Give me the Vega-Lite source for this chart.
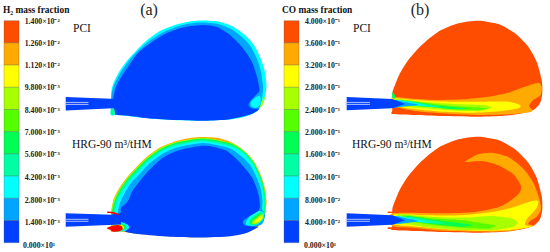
{"$schema":"https://vega.github.io/schema/vega-lite/v6.json","width":550,"height":252,"padding":0,"autosize":{"type":"fit","contains":"padding"},"background":"white","config":{"view":{"stroke":null}},
"datasets":{
"regions":[
{"shape":1,"level":2,"x":111,"y":97},{"shape":1,"level":2,"x":111.5,"y":90},{"shape":1,"level":2,"x":113.5,"y":83},{"shape":1,"level":2,"x":119,"y":72},{"shape":1,"level":2,"x":126,"y":62},{"shape":1,"level":2,"x":134,"y":53},{"shape":1,"level":2,"x":146,"y":41},{"shape":1,"level":2,"x":160,"y":31},{"shape":1,"level":2,"x":175,"y":25},{"shape":1,"level":2,"x":190,"y":21.5},{"shape":1,"level":2,"x":203,"y":20.5},{"shape":1,"level":2,"x":218,"y":21.5},{"shape":1,"level":2,"x":232,"y":26},{"shape":1,"level":2,"x":245,"y":35},{"shape":1,"level":2,"x":254,"y":45},{"shape":1,"level":2,"x":260,"y":57},{"shape":1,"level":2,"x":264.5,"y":70},{"shape":1,"level":2,"x":266.5,"y":85},{"shape":1,"level":2,"x":265,"y":98},{"shape":1,"level":2,"x":263,"y":103},{"shape":1,"level":2,"x":258,"y":110.5},{"shape":1,"level":2,"x":247,"y":116},{"shape":1,"level":2,"x":230,"y":119.5},{"shape":1,"level":2,"x":200,"y":120.7},{"shape":1,"level":2,"x":170,"y":120},{"shape":1,"level":2,"x":140,"y":117.5},{"shape":1,"level":2,"x":120,"y":115},{"shape":1,"level":2,"x":111,"y":115},{"shape":1,"level":2,"x":111,"y":108},
{"shape":2,"level":1,"x":111.5,"y":97},{"shape":2,"level":1,"x":112.5,"y":90},{"shape":2,"level":1,"x":115,"y":83},{"shape":2,"level":1,"x":121,"y":72},{"shape":2,"level":1,"x":128,"y":62},{"shape":2,"level":1,"x":136,"y":53},{"shape":2,"level":1,"x":148,"y":42},{"shape":2,"level":1,"x":162,"y":33},{"shape":2,"level":1,"x":176,"y":27},{"shape":2,"level":1,"x":190,"y":23.5},{"shape":2,"level":1,"x":203,"y":22.5},{"shape":2,"level":1,"x":218,"y":24},{"shape":2,"level":1,"x":231,"y":29},{"shape":2,"level":1,"x":243,"y":38},{"shape":2,"level":1,"x":251,"y":47},{"shape":2,"level":1,"x":257,"y":59},{"shape":2,"level":1,"x":261,"y":72},{"shape":2,"level":1,"x":263,"y":87},{"shape":2,"level":1,"x":262,"y":98},{"shape":2,"level":1,"x":258,"y":107},{"shape":2,"level":1,"x":247,"y":115},{"shape":2,"level":1,"x":200,"y":120},{"shape":2,"level":1,"x":120,"y":114.5},{"shape":2,"level":1,"x":112,"y":114},
{"shape":3,"level":6,"x":265.5,"y":96},{"shape":3,"level":6,"x":262.5,"y":100},{"shape":3,"level":6,"x":259,"y":107.5},{"shape":3,"level":6,"x":262,"y":106},{"shape":3,"level":6,"x":265,"y":98},
{"shape":4,"level":1,"x":262,"y":92},{"shape":4,"level":1,"x":256,"y":93},{"shape":4,"level":1,"x":250,"y":98},{"shape":4,"level":1,"x":247.5,"y":105},{"shape":4,"level":1,"x":250,"y":109.5},{"shape":4,"level":1,"x":258,"y":109.5},{"shape":4,"level":1,"x":261,"y":103},
{"shape":5,"level":2,"x":260,"y":96},{"shape":5,"level":2,"x":255,"y":98},{"shape":5,"level":2,"x":251,"y":102},{"shape":5,"level":2,"x":251,"y":106},{"shape":5,"level":2,"x":256,"y":108},{"shape":5,"level":2,"x":260.5,"y":104},
{"shape":6,"level":0,"x":113.5,"y":97},{"shape":6,"level":0,"x":115.5,"y":88},{"shape":6,"level":0,"x":120.5,"y":78},{"shape":6,"level":0,"x":128,"y":67},{"shape":6,"level":0,"x":138,"y":53},{"shape":6,"level":0,"x":152,"y":42},{"shape":6,"level":0,"x":167,"y":33},{"shape":6,"level":0,"x":185,"y":27},{"shape":6,"level":0,"x":203,"y":25},{"shape":6,"level":0,"x":217,"y":27},{"shape":6,"level":0,"x":230,"y":35},{"shape":6,"level":0,"x":242,"y":47},{"shape":6,"level":0,"x":252,"y":62},{"shape":6,"level":0,"x":257,"y":77},{"shape":6,"level":0,"x":259.5,"y":90},{"shape":6,"level":0,"x":256,"y":95},{"shape":6,"level":0,"x":251,"y":100},{"shape":6,"level":0,"x":248.5,"y":105},{"shape":6,"level":0,"x":252,"y":108.5},{"shape":6,"level":0,"x":259,"y":109},{"shape":6,"level":0,"x":254,"y":113},{"shape":6,"level":0,"x":245,"y":116},{"shape":6,"level":0,"x":228,"y":119.5},{"shape":6,"level":0,"x":205,"y":120.7},{"shape":6,"level":0,"x":175,"y":120},{"shape":6,"level":0,"x":150,"y":118.5},{"shape":6,"level":0,"x":130,"y":116},{"shape":6,"level":0,"x":115,"y":114.5},{"shape":6,"level":0,"x":113,"y":108},{"shape":6,"level":0,"x":113,"y":100},
{"shape":7,"level":3,"x":111,"y":108.5},{"shape":7,"level":3,"x":114,"y":108.5},{"shape":7,"level":3,"x":115,"y":114.5},{"shape":7,"level":3,"x":111,"y":115},
{"shape":10,"level":8,"x":111,"y":213.5},{"shape":10,"level":8,"x":113.5,"y":199.5},{"shape":10,"level":8,"x":119,"y":188.5},{"shape":10,"level":8,"x":126,"y":178.5},{"shape":10,"level":8,"x":134,"y":169.5},{"shape":10,"level":8,"x":146,"y":157.5},{"shape":10,"level":8,"x":160,"y":147.5},{"shape":10,"level":8,"x":175,"y":141.5},{"shape":10,"level":8,"x":190,"y":138},{"shape":10,"level":8,"x":203,"y":137},{"shape":10,"level":8,"x":218,"y":138},{"shape":10,"level":8,"x":232,"y":142.5},{"shape":10,"level":8,"x":245,"y":151.5},{"shape":10,"level":8,"x":254,"y":161.5},{"shape":10,"level":8,"x":260,"y":173.5},{"shape":10,"level":8,"x":264.5,"y":186.5},{"shape":10,"level":8,"x":266.5,"y":201.5},{"shape":10,"level":8,"x":265,"y":214.5},{"shape":10,"level":8,"x":263,"y":219.5},{"shape":10,"level":8,"x":258,"y":227},{"shape":10,"level":8,"x":247,"y":232.5},{"shape":10,"level":8,"x":230,"y":236},{"shape":10,"level":8,"x":200,"y":237.2},{"shape":10,"level":8,"x":170,"y":236.5},{"shape":10,"level":8,"x":140,"y":234},{"shape":10,"level":8,"x":120,"y":231.5},{"shape":10,"level":8,"x":111,"y":231.5},{"shape":10,"level":8,"x":111,"y":225},
{"shape":11,"level":6,"x":111.7,"y":213.6},{"shape":11,"level":6,"x":114.1,"y":199.7},{"shape":11,"level":6,"x":119.6,"y":188.9},{"shape":11,"level":6,"x":126.5,"y":179},{"shape":11,"level":6,"x":134.5,"y":170},{"shape":11,"level":6,"x":146.4,"y":158.1},{"shape":11,"level":6,"x":160.3,"y":148.1},{"shape":11,"level":6,"x":175.2,"y":142.2},{"shape":11,"level":6,"x":203,"y":137.7},{"shape":11,"level":6,"x":231.7,"y":143.1},{"shape":11,"level":6,"x":245,"y":151.7},{"shape":11,"level":6,"x":253.8,"y":161.7},{"shape":11,"level":6,"x":259.8,"y":173.7},{"shape":11,"level":6,"x":264.2,"y":186.6},{"shape":11,"level":6,"x":266.2,"y":201.5},{"shape":11,"level":6,"x":264.8,"y":214.5},{"shape":11,"level":6,"x":258,"y":226},{"shape":11,"level":6,"x":200,"y":236},{"shape":11,"level":6,"x":125,"y":231},
{"shape":12,"level":4,"x":112.5,"y":213.7},{"shape":12,"level":4,"x":114.9,"y":200},{"shape":12,"level":4,"x":120.3,"y":189.3},{"shape":12,"level":4,"x":127.1,"y":179.5},{"shape":12,"level":4,"x":135,"y":170.5},{"shape":12,"level":4,"x":146.9,"y":158.7},{"shape":12,"level":4,"x":160.7,"y":148.9},{"shape":12,"level":4,"x":175.5,"y":142.9},{"shape":12,"level":4,"x":203,"y":138.5},{"shape":12,"level":4,"x":231.3,"y":143.8},{"shape":12,"level":4,"x":244.5,"y":152},{"shape":12,"level":4,"x":253.4,"y":162},{"shape":12,"level":4,"x":259.4,"y":173.8},{"shape":12,"level":4,"x":263.8,"y":186.7},{"shape":12,"level":4,"x":265.8,"y":201.5},{"shape":12,"level":4,"x":264.3,"y":214.4},{"shape":12,"level":4,"x":258,"y":225},{"shape":12,"level":4,"x":200,"y":232},{"shape":12,"level":4,"x":125,"y":228},
{"shape":13,"level":3,"x":113.8,"y":213.8},{"shape":13,"level":3,"x":116,"y":200.5},{"shape":13,"level":3,"x":121.4,"y":189.9},{"shape":13,"level":3,"x":128.1,"y":180.3},{"shape":13,"level":3,"x":136,"y":171.5},{"shape":13,"level":3,"x":147.7,"y":159.7},{"shape":13,"level":3,"x":161.3,"y":150},{"shape":13,"level":3,"x":175.8,"y":144.2},{"shape":13,"level":3,"x":203,"y":139.8},{"shape":13,"level":3,"x":230.7,"y":145},{"shape":13,"level":3,"x":244,"y":152.6},{"shape":13,"level":3,"x":252.8,"y":162.4},{"shape":13,"level":3,"x":258.6,"y":174.2},{"shape":13,"level":3,"x":263,"y":186.9},{"shape":13,"level":3,"x":265,"y":201.5},{"shape":13,"level":3,"x":263.6,"y":214.2},{"shape":13,"level":3,"x":258,"y":225},{"shape":13,"level":3,"x":200,"y":232},{"shape":13,"level":3,"x":125,"y":228},
{"shape":14,"level":2,"x":115.2,"y":213.9},{"shape":14,"level":2,"x":117.3,"y":201},{"shape":14,"level":2,"x":122.6,"y":190.6},{"shape":14,"level":2,"x":129.2,"y":181.2},{"shape":14,"level":2,"x":137,"y":172.4},{"shape":14,"level":2,"x":148.5,"y":160.9},{"shape":14,"level":2,"x":162,"y":151.3},{"shape":14,"level":2,"x":176.3,"y":145.5},{"shape":14,"level":2,"x":203,"y":141.2},{"shape":14,"level":2,"x":230,"y":146.3},{"shape":14,"level":2,"x":243.4,"y":153.4},{"shape":14,"level":2,"x":252,"y":163},{"shape":14,"level":2,"x":257.8,"y":174.6},{"shape":14,"level":2,"x":262,"y":187.1},{"shape":14,"level":2,"x":264,"y":201.5},{"shape":14,"level":2,"x":262.7,"y":214},{"shape":14,"level":2,"x":258,"y":224},{"shape":14,"level":2,"x":200,"y":230},{"shape":14,"level":2,"x":125,"y":226},
{"shape":15,"level":1,"x":118,"y":214},{"shape":15,"level":1,"x":120,"y":203},{"shape":15,"level":1,"x":125,"y":192.5},{"shape":15,"level":1,"x":131,"y":183},{"shape":15,"level":1,"x":139,"y":174.5},{"shape":15,"level":1,"x":150,"y":163},{"shape":15,"level":1,"x":163,"y":153.5},{"shape":15,"level":1,"x":177,"y":147.5},{"shape":15,"level":1,"x":203,"y":143},{"shape":15,"level":1,"x":229,"y":148},{"shape":15,"level":1,"x":241,"y":156},{"shape":15,"level":1,"x":250,"y":165},{"shape":15,"level":1,"x":256,"y":176},{"shape":15,"level":1,"x":260.5,"y":188},{"shape":15,"level":1,"x":262.5,"y":201.5},{"shape":15,"level":1,"x":261,"y":214},{"shape":15,"level":1,"x":258,"y":224},{"shape":15,"level":1,"x":200,"y":230},{"shape":15,"level":1,"x":125,"y":226},
{"shape":16,"level":1,"x":260,"y":208},{"shape":16,"level":1,"x":250,"y":213},{"shape":16,"level":1,"x":243,"y":221},{"shape":16,"level":1,"x":243.5,"y":226},{"shape":16,"level":1,"x":253,"y":227},{"shape":16,"level":1,"x":262,"y":224},{"shape":16,"level":1,"x":265,"y":215},
{"shape":17,"level":2,"x":259,"y":211},{"shape":17,"level":2,"x":250,"y":216},{"shape":17,"level":2,"x":246,"y":222},{"shape":17,"level":2,"x":247,"y":225},{"shape":17,"level":2,"x":255,"y":225.5},{"shape":17,"level":2,"x":263,"y":220},{"shape":17,"level":2,"x":264,"y":213},
{"shape":18,"level":4,"x":261,"y":212},{"shape":18,"level":4,"x":252,"y":218},{"shape":18,"level":4,"x":249,"y":222},{"shape":18,"level":4,"x":250,"y":224.5},{"shape":18,"level":4,"x":256,"y":224.5},{"shape":18,"level":4,"x":263,"y":219},
{"shape":19,"level":6,"x":262,"y":214},{"shape":19,"level":6,"x":255,"y":219},{"shape":19,"level":6,"x":252,"y":222},{"shape":19,"level":6,"x":253,"y":224},{"shape":19,"level":6,"x":258,"y":223},{"shape":19,"level":6,"x":263,"y":218},
{"shape":20,"level":7,"x":262,"y":216},{"shape":20,"level":7,"x":256,"y":220},{"shape":20,"level":7,"x":254,"y":222.5},{"shape":20,"level":7,"x":258,"y":222},{"shape":20,"level":7,"x":262,"y":219},
{"shape":21,"level":0,"x":120.5,"y":213},{"shape":21,"level":0,"x":121,"y":208},{"shape":21,"level":0,"x":128,"y":201},{"shape":21,"level":0,"x":133,"y":190},{"shape":21,"level":0,"x":147,"y":172.5},{"shape":21,"level":0,"x":163,"y":157.5},{"shape":21,"level":0,"x":180,"y":150},{"shape":21,"level":0,"x":200,"y":146},{"shape":21,"level":0,"x":213,"y":146.7},{"shape":21,"level":0,"x":227,"y":151},{"shape":21,"level":0,"x":240,"y":162.5},{"shape":21,"level":0,"x":252,"y":177.5},{"shape":21,"level":0,"x":258,"y":192.5},{"shape":21,"level":0,"x":260,"y":206},{"shape":21,"level":0,"x":258,"y":211},{"shape":21,"level":0,"x":250,"y":216},{"shape":21,"level":0,"x":243,"y":221},{"shape":21,"level":0,"x":245,"y":225.5},{"shape":21,"level":0,"x":253,"y":226.5},{"shape":21,"level":0,"x":258,"y":227},{"shape":21,"level":0,"x":247,"y":232.7},{"shape":21,"level":0,"x":230,"y":236.2},{"shape":21,"level":0,"x":200,"y":237.5},{"shape":21,"level":0,"x":170,"y":236.8},{"shape":21,"level":0,"x":140,"y":234.3},{"shape":21,"level":0,"x":125,"y":231.5},{"shape":21,"level":0,"x":126,"y":226},{"shape":21,"level":0,"x":122,"y":222},{"shape":21,"level":0,"x":111,"y":222},{"shape":21,"level":0,"x":111,"y":215},
{"shape":22,"level":2,"x":114,"y":223},{"shape":22,"level":2,"x":122,"y":222.5},{"shape":22,"level":2,"x":128,"y":225},{"shape":22,"level":2,"x":129,"y":228},{"shape":22,"level":2,"x":125,"y":231},{"shape":22,"level":2,"x":118,"y":231.5},{"shape":22,"level":2,"x":113,"y":231},
{"shape":23,"level":4,"x":114,"y":224},{"shape":23,"level":4,"x":122,"y":223.5},{"shape":23,"level":4,"x":126,"y":226},{"shape":23,"level":4,"x":126,"y":229},{"shape":23,"level":4,"x":120,"y":231},{"shape":23,"level":4,"x":113,"y":231},
{"shape":24,"level":7,"x":116,"y":224.5},{"shape":24,"level":7,"x":122,"y":225},{"shape":24,"level":7,"x":124,"y":228},{"shape":24,"level":7,"x":120,"y":230.5},{"shape":24,"level":7,"x":115,"y":230.5},
{"shape":25,"level":10,"x":107.5,"y":227.5},{"shape":25,"level":10,"x":112,"y":226},{"shape":25,"level":10,"x":118,"y":225},{"shape":25,"level":10,"x":122,"y":226.5},{"shape":25,"level":10,"x":122.5,"y":229.5},{"shape":25,"level":10,"x":118,"y":231.5},{"shape":25,"level":10,"x":112,"y":231.5},{"shape":25,"level":10,"x":111,"y":230},{"shape":25,"level":10,"x":107.5,"y":229},
{"shape":26,"level":10,"x":107.5,"y":211.5},{"shape":26,"level":10,"x":114,"y":212},{"shape":26,"level":10,"x":118.5,"y":214},{"shape":26,"level":10,"x":118,"y":215},{"shape":26,"level":10,"x":112,"y":213.5},{"shape":26,"level":10,"x":107.5,"y":213},
{"shape":30,"level":9,"x":392.3,"y":93.3},{"shape":30,"level":9,"x":395,"y":85},{"shape":30,"level":9,"x":400,"y":73.3},{"shape":30,"level":9,"x":408.3,"y":60},{"shape":30,"level":9,"x":421.7,"y":45},{"shape":30,"level":9,"x":438.3,"y":31.7},{"shape":30,"level":9,"x":458.3,"y":23.3},{"shape":30,"level":9,"x":478.3,"y":20.7},{"shape":30,"level":9,"x":498.3,"y":24},{"shape":30,"level":9,"x":515,"y":33.3},{"shape":30,"level":9,"x":528.3,"y":46.7},{"shape":30,"level":9,"x":536.7,"y":61.7},{"shape":30,"level":9,"x":541.7,"y":80},{"shape":30,"level":9,"x":542.3,"y":93.3},{"shape":30,"level":9,"x":540,"y":103.3},{"shape":30,"level":9,"x":533.3,"y":110},{"shape":30,"level":9,"x":518.3,"y":114},{"shape":30,"level":9,"x":501.7,"y":116},{"shape":30,"level":9,"x":475,"y":116.7},{"shape":30,"level":9,"x":441.7,"y":116},{"shape":30,"level":9,"x":415,"y":115},{"shape":30,"level":9,"x":392.3,"y":114},{"shape":30,"level":9,"x":392.3,"y":110},
{"shape":31,"level":8,"x":392.3,"y":97.3},{"shape":31,"level":8,"x":408.3,"y":98.3},{"shape":31,"level":8,"x":435,"y":100},{"shape":31,"level":8,"x":461.7,"y":99.3},{"shape":31,"level":8,"x":488.3,"y":96.7},{"shape":31,"level":8,"x":508.3,"y":92.7},{"shape":31,"level":8,"x":523.3,"y":87.3},{"shape":31,"level":8,"x":538.3,"y":82.7},{"shape":31,"level":8,"x":541.7,"y":87.3},{"shape":31,"level":8,"x":540.7,"y":95},{"shape":31,"level":8,"x":533.3,"y":100},{"shape":31,"level":8,"x":529,"y":106},{"shape":31,"level":8,"x":531.7,"y":111.7},{"shape":31,"level":8,"x":508.3,"y":114.3},{"shape":31,"level":8,"x":475,"y":115},{"shape":31,"level":8,"x":441.7,"y":113.3},{"shape":31,"level":8,"x":415,"y":111},{"shape":31,"level":8,"x":393.3,"y":106},
{"shape":32,"level":7,"x":391.7,"y":98.3},{"shape":32,"level":7,"x":415,"y":100},{"shape":32,"level":7,"x":448.3,"y":101.7},{"shape":32,"level":7,"x":481.7,"y":101.7},{"shape":32,"level":7,"x":508.3,"y":101.7},{"shape":32,"level":7,"x":520,"y":105},{"shape":32,"level":7,"x":518.3,"y":108.3},{"shape":32,"level":7,"x":501.7,"y":111},{"shape":32,"level":7,"x":475,"y":112.7},{"shape":32,"level":7,"x":441.7,"y":111.7},{"shape":32,"level":7,"x":415,"y":109.3},{"shape":32,"level":7,"x":398.3,"y":106.7},{"shape":32,"level":7,"x":391.7,"y":105},
{"shape":33,"level":6,"x":395,"y":99},{"shape":33,"level":6,"x":421.7,"y":101.7},{"shape":33,"level":6,"x":455,"y":104},{"shape":33,"level":6,"x":481.7,"y":105},{"shape":33,"level":6,"x":491.7,"y":107.3},{"shape":33,"level":6,"x":481.7,"y":110.7},{"shape":33,"level":6,"x":455,"y":110.7},{"shape":33,"level":6,"x":425,"y":108.3},{"shape":33,"level":6,"x":398.3,"y":106},
{"shape":34,"level":5,"x":401.7,"y":100},{"shape":34,"level":5,"x":428.3,"y":103.3},{"shape":34,"level":5,"x":451.7,"y":106},{"shape":34,"level":5,"x":475,"y":107.3},{"shape":34,"level":5,"x":488.3,"y":108.7},{"shape":34,"level":5,"x":475,"y":110},{"shape":34,"level":5,"x":451.7,"y":109.3},{"shape":34,"level":5,"x":425,"y":106.7},{"shape":34,"level":5,"x":401.7,"y":105},
{"shape":35,"level":4,"x":406.7,"y":101},{"shape":35,"level":4,"x":431.7,"y":105},{"shape":35,"level":4,"x":455,"y":107.3},{"shape":35,"level":4,"x":468.3,"y":108.7},{"shape":35,"level":4,"x":455,"y":109.3},{"shape":35,"level":4,"x":431.7,"y":106.7},{"shape":35,"level":4,"x":408.3,"y":105.3},
{"shape":36,"level":3,"x":408.3,"y":101},{"shape":36,"level":3,"x":421.7,"y":103.3},{"shape":36,"level":3,"x":441.7,"y":107.3},{"shape":36,"level":3,"x":428.3,"y":106.7},{"shape":36,"level":3,"x":408.3,"y":105},
{"shape":37,"level":2,"x":398.3,"y":100},{"shape":37,"level":2,"x":415,"y":103.3},{"shape":37,"level":2,"x":428.3,"y":106},{"shape":37,"level":2,"x":415,"y":105.3},{"shape":37,"level":2,"x":398.3,"y":105.7},
{"shape":38,"level":1,"x":393.3,"y":100},{"shape":38,"level":1,"x":408.3,"y":102.7},{"shape":38,"level":1,"x":418.3,"y":104.7},{"shape":38,"level":1,"x":408.3,"y":106},{"shape":38,"level":1,"x":393.3,"y":107.3},
{"shape":39,"level":4,"x":392.3,"y":92},{"shape":39,"level":4,"x":394,"y":94},{"shape":39,"level":4,"x":396,"y":98},{"shape":39,"level":4,"x":392.3,"y":98},
{"shape":50,"level":9,"x":392.3,"y":209.3},{"shape":50,"level":9,"x":395,"y":201},{"shape":50,"level":9,"x":400,"y":189.3},{"shape":50,"level":9,"x":408.3,"y":176},{"shape":50,"level":9,"x":421.7,"y":161},{"shape":50,"level":9,"x":438.3,"y":147.7},{"shape":50,"level":9,"x":458.3,"y":139.3},{"shape":50,"level":9,"x":478.3,"y":136.7},{"shape":50,"level":9,"x":498.3,"y":140},{"shape":50,"level":9,"x":515,"y":149.3},{"shape":50,"level":9,"x":528.3,"y":162.7},{"shape":50,"level":9,"x":536.7,"y":177.7},{"shape":50,"level":9,"x":541.7,"y":196},{"shape":50,"level":9,"x":542.3,"y":209.3},{"shape":50,"level":9,"x":540,"y":219.3},{"shape":50,"level":9,"x":533.3,"y":226},{"shape":50,"level":9,"x":518.3,"y":230},{"shape":50,"level":9,"x":501.7,"y":232},{"shape":50,"level":9,"x":475,"y":232.7},{"shape":50,"level":9,"x":441.7,"y":232},{"shape":50,"level":9,"x":415,"y":231},{"shape":50,"level":9,"x":392.3,"y":230},{"shape":50,"level":9,"x":392.3,"y":226},
{"shape":51,"level":8,"x":465.7,"y":161},{"shape":51,"level":8,"x":478.3,"y":154.3},{"shape":51,"level":8,"x":491.7,"y":152.7},{"shape":51,"level":8,"x":508.3,"y":157},{"shape":51,"level":8,"x":523.3,"y":168.7},{"shape":51,"level":8,"x":533.3,"y":182.7},{"shape":51,"level":8,"x":539,"y":197.7},{"shape":51,"level":8,"x":541,"y":209.3},{"shape":51,"level":8,"x":536.7,"y":216.7},{"shape":51,"level":8,"x":530,"y":221},{"shape":51,"level":8,"x":528.3,"y":224.3},{"shape":51,"level":8,"x":533.3,"y":226},{"shape":51,"level":8,"x":508.3,"y":231.3},{"shape":51,"level":8,"x":475,"y":231.5},{"shape":51,"level":8,"x":441.7,"y":230.7},{"shape":51,"level":8,"x":415,"y":228},{"shape":51,"level":8,"x":392.3,"y":226},{"shape":51,"level":8,"x":392.3,"y":213.3},{"shape":51,"level":8,"x":441.7,"y":213.3},{"shape":51,"level":8,"x":475,"y":212},{"shape":51,"level":8,"x":501.7,"y":206},{"shape":51,"level":8,"x":518.3,"y":194.3},{"shape":51,"level":8,"x":521,"y":186},{"shape":51,"level":8,"x":513.3,"y":174.3},{"shape":51,"level":8,"x":498.3,"y":165.3},{"shape":51,"level":8,"x":481.7,"y":161},{"shape":51,"level":8,"x":466.7,"y":162},
{"shape":52,"level":7,"x":395,"y":214.3},{"shape":52,"level":7,"x":425,"y":215.3},{"shape":52,"level":7,"x":461.7,"y":215.3},{"shape":52,"level":7,"x":491.7,"y":212},{"shape":52,"level":7,"x":511.7,"y":207.7},{"shape":52,"level":7,"x":531.7,"y":201},{"shape":52,"level":7,"x":538.3,"y":201},{"shape":52,"level":7,"x":536.7,"y":207.7},{"shape":52,"level":7,"x":532.3,"y":213.3},{"shape":52,"level":7,"x":526.7,"y":219.3},{"shape":52,"level":7,"x":525,"y":225},{"shape":52,"level":7,"x":531.7,"y":226.7},{"shape":52,"level":7,"x":508.3,"y":230},{"shape":52,"level":7,"x":475,"y":230.7},{"shape":52,"level":7,"x":441.7,"y":229},{"shape":52,"level":7,"x":415,"y":226.5},{"shape":52,"level":7,"x":395,"y":224.3},
{"shape":53,"level":6,"x":398.3,"y":214.3},{"shape":53,"level":6,"x":431.7,"y":216.7},{"shape":53,"level":6,"x":461.7,"y":217.7},{"shape":53,"level":6,"x":491.7,"y":216},{"shape":53,"level":6,"x":508.3,"y":217.7},{"shape":53,"level":6,"x":516.7,"y":221},{"shape":53,"level":6,"x":515,"y":226},{"shape":53,"level":6,"x":495,"y":230},{"shape":53,"level":6,"x":461.7,"y":230},{"shape":53,"level":6,"x":431.7,"y":227.7},{"shape":53,"level":6,"x":408.3,"y":224.3},{"shape":53,"level":6,"x":398.3,"y":222.7},
{"shape":54,"level":5,"x":403.3,"y":215.3},{"shape":54,"level":5,"x":435,"y":218.7},{"shape":54,"level":5,"x":461.7,"y":220},{"shape":54,"level":5,"x":478.3,"y":222.7},{"shape":54,"level":5,"x":495,"y":225.3},{"shape":54,"level":5,"x":488.3,"y":228.7},{"shape":54,"level":5,"x":465,"y":228},{"shape":54,"level":5,"x":435,"y":225.3},{"shape":54,"level":5,"x":408.3,"y":221},
{"shape":55,"level":4,"x":406.7,"y":216},{"shape":55,"level":4,"x":435,"y":220},{"shape":55,"level":4,"x":461.7,"y":223.3},{"shape":55,"level":4,"x":471.7,"y":225.3},{"shape":55,"level":4,"x":461.7,"y":226.7},{"shape":55,"level":4,"x":435,"y":224.3},{"shape":55,"level":4,"x":411.7,"y":220.3},
{"shape":56,"level":3,"x":408.3,"y":216.7},{"shape":56,"level":3,"x":428.3,"y":220},{"shape":56,"level":3,"x":445,"y":223.3},{"shape":56,"level":3,"x":431.7,"y":223.3},{"shape":56,"level":3,"x":410,"y":220.3},
{"shape":57,"level":2,"x":398.3,"y":216},{"shape":57,"level":2,"x":415,"y":219.3},{"shape":57,"level":2,"x":430,"y":222.7},{"shape":57,"level":2,"x":415,"y":222},{"shape":57,"level":2,"x":398.3,"y":222},
{"shape":58,"level":1,"x":393.3,"y":216},{"shape":58,"level":1,"x":408.3,"y":218.7},{"shape":58,"level":1,"x":418.3,"y":221},{"shape":58,"level":1,"x":408.3,"y":222.7},{"shape":58,"level":1,"x":393.3,"y":223.7},
{"shape":59,"level":9,"x":388,"y":211.5},{"shape":59,"level":9,"x":394,"y":212},{"shape":59,"level":9,"x":394,"y":213},{"shape":59,"level":9,"x":388,"y":213},
{"shape":60,"level":9,"x":388,"y":227.5},{"shape":60,"level":9,"x":394,"y":227.5},{"shape":60,"level":9,"x":394,"y":229},{"shape":60,"level":9,"x":388,"y":229}
],
"pipes":[
{"shape":"a1","level":0,"x":65.7,"y":97},{"shape":"a1","level":0,"x":111,"y":98.7},{"shape":"a1","level":0,"x":113,"y":98.7},{"shape":"a1","level":0,"x":113,"y":108.3},{"shape":"a1","level":0,"x":65.7,"y":110.5},
{"shape":"a2","level":0,"x":65.7,"y":213.3},{"shape":"a2","level":0,"x":121,"y":215},{"shape":"a2","level":0,"x":121,"y":224.5},{"shape":"a2","level":0,"x":65.7,"y":226.7},
{"shape":"b1","level":0,"x":346.7,"y":97},{"shape":"b1","level":0,"x":392.3,"y":99},{"shape":"b1","level":0,"x":405,"y":104},{"shape":"b1","level":0,"x":392.3,"y":108.3},{"shape":"b1","level":0,"x":346.7,"y":110.3},
{"shape":"b2","level":0,"x":346.7,"y":213.3},{"shape":"b2","level":0,"x":392.3,"y":215.3},{"shape":"b2","level":0,"x":405,"y":220.3},{"shape":"b2","level":0,"x":392.3,"y":224.7},{"shape":"b2","level":0,"x":346.7,"y":226.7}
],
"lances":[
{"lance":"a1u","x":64.5,"y":102.4},{"lance":"a1u","x":88.5,"y":102.4},{"lance":"a1l","x":64.5,"y":104.4},{"lance":"a1l","x":88.5,"y":104.4},
{"lance":"a2u","x":64.5,"y":219.3},{"lance":"a2u","x":88.5,"y":219.3},{"lance":"a2l","x":64.5,"y":221.3},{"lance":"a2l","x":88.5,"y":221.3},
{"lance":"b1u","x":345,"y":102.4},{"lance":"b1u","x":370,"y":102.4},{"lance":"b1l","x":345,"y":104.4},{"lance":"b1l","x":370,"y":104.4},
{"lance":"b2u","x":345,"y":219.3},{"lance":"b2u","x":370,"y":219.3},{"lance":"b2l","x":345,"y":221.3},{"lance":"b2l","x":370,"y":221.3}
],
"bar":[
{"x":4,"x2":19,"y":20.7,"y2":42.9,"level":9},{"x":4,"x2":19,"y":42.9,"y2":65.1,"level":8},{"x":4,"x2":19,"y":65.1,"y2":87.3,"level":7},{"x":4,"x2":19,"y":87.3,"y2":109.5,"level":6},{"x":4,"x2":19,"y":109.5,"y2":131.7,"level":5},{"x":4,"x2":19,"y":131.7,"y2":153.9,"level":4},{"x":4,"x2":19,"y":153.9,"y2":176.1,"level":3},{"x":4,"x2":19,"y":176.1,"y2":198.3,"level":2},{"x":4,"x2":19,"y":198.3,"y2":220.5,"level":1},{"x":4,"x2":19,"y":220.5,"y2":242.7,"level":0},
{"x":284,"x2":299,"y":20.7,"y2":42.9,"level":9},{"x":284,"x2":299,"y":42.9,"y2":65.1,"level":8},{"x":284,"x2":299,"y":65.1,"y2":87.3,"level":7},{"x":284,"x2":299,"y":87.3,"y2":109.5,"level":6},{"x":284,"x2":299,"y":109.5,"y2":131.7,"level":5},{"x":284,"x2":299,"y":131.7,"y2":153.9,"level":4},{"x":284,"x2":299,"y":153.9,"y2":176.1,"level":3},{"x":284,"x2":299,"y":176.1,"y2":198.3,"level":2},{"x":284,"x2":299,"y":198.3,"y2":220.5,"level":1},{"x":284,"x2":299,"y":220.5,"y2":242.7,"level":0}
],
"ticks":[
{"x":24.7,"y":21.7,"label":"1.400×10⁻²"},{"x":24.7,"y":43.7,"label":"1.260×10⁻²"},{"x":24.7,"y":66,"label":"1.120×10⁻²"},{"x":24.7,"y":88,"label":"9.800×10⁻³"},{"x":24.7,"y":110.5,"label":"8.400×10⁻³"},{"x":24.7,"y":133.3,"label":"7.000×10⁻³"},{"x":24.7,"y":155.3,"label":"5.600×10⁻³"},{"x":24.7,"y":178,"label":"4.200×10⁻³"},{"x":24.7,"y":201,"label":"2.800×10⁻³"},{"x":24.7,"y":223,"label":"1.400×10⁻³"},{"x":23,"y":245.5,"label":"0.000×10¹"},
{"x":305,"y":21.7,"label":"4.000×10⁻¹"},{"x":305,"y":43.7,"label":"3.600×10⁻¹"},{"x":305,"y":66,"label":"3.200×10⁻¹"},{"x":305,"y":88,"label":"2.800×10⁻¹"},{"x":305,"y":110.5,"label":"2.400×10⁻¹"},{"x":305,"y":133.3,"label":"2.000×10⁻¹"},{"x":305,"y":155.3,"label":"1.600×10⁻¹"},{"x":305,"y":178,"label":"1.200×10⁻¹"},{"x":305,"y":201,"label":"8.000×10⁻²"},{"x":305,"y":223,"label":"4.000×10⁻²"},{"x":304,"y":245.5,"label":"0.000×10¹"}
],
"titles":[{"x":3,"y":10,"label":"H₂ mass fraction"},{"x":282,"y":10,"label":"CO mass fraction"}],
"tags":[{"x":149,"y":10,"label":"(a)"},{"x":420,"y":10,"label":"(b)"}],
"notes":[{"x":73,"y":28.5,"label":"PCI"},{"x":353,"y":28.5,"label":"PCI"},{"x":72,"y":145,"label":"HRG-90 m³/tHM"},{"x":352,"y":145,"label":"HRG-90 m³/tHM"}]
},
"layer":[
{"data":{"name":"regions"},"mark":{"type":"line","interpolate":"cardinal-closed","tension":0.3,"strokeWidth":0,"clip":false},
 "encoding":{"x":{"field":"x","type":"quantitative","scale":{"domain":[0,550],"nice":false,"zero":false},"axis":null},"y":{"field":"y","type":"quantitative","scale":{"domain":[252,0],"nice":false,"zero":false},"axis":null},"order":{"value":null},"detail":{"field":"shape","type":"nominal"},"fill":{"field":"level","type":"ordinal","scale":{"domain":[0,1,2,3,4,5,6,7,8,9,10],"range":["#0040ff","#00a5ff","#00ffff","#00ffa5","#00ff55","#55ff00","#a8ff00","#ffff00","#ffaa00","#ff4d00","#ff0000"]},"legend":null}}},
{"data":{"name":"pipes"},"mark":{"type":"line","interpolate":"linear-closed","strokeWidth":0},
 "encoding":{"x":{"field":"x","type":"quantitative","axis":null},"y":{"field":"y","type":"quantitative","axis":null},"order":{"value":null},"detail":{"field":"shape","type":"nominal"},"fill":{"field":"level","type":"ordinal","legend":null}}},
{"data":{"name":"lances"},"mark":{"type":"line","color":"#c4ceff","strokeWidth":0.9},
 "encoding":{"x":{"field":"x","type":"quantitative","axis":null},"y":{"field":"y","type":"quantitative","axis":null},"detail":{"field":"lance","type":"nominal"},"order":{"value":null}}},
{"data":{"name":"bar"},"mark":{"type":"rect","stroke":"#555555","strokeWidth":0.3},
 "encoding":{"x":{"field":"x","type":"quantitative","axis":null},"x2":{"field":"x2"},"y":{"field":"y","type":"quantitative","axis":null},"y2":{"field":"y2"},"fill":{"field":"level","type":"ordinal","legend":null}}},
{"data":{"name":"ticks"},"mark":{"type":"text","align":"left","baseline":"middle","font":"Liberation Serif","fontWeight":"bold","fontSize":7.8,"color":"#222222"},
 "encoding":{"x":{"field":"x","type":"quantitative","axis":null},"y":{"field":"y","type":"quantitative","axis":null},"text":{"field":"label"}}},
{"data":{"name":"titles"},"mark":{"type":"text","align":"left","baseline":"middle","font":"Liberation Serif","fontWeight":"bold","fontSize":9.4,"color":"#111111"},
 "encoding":{"x":{"field":"x","type":"quantitative","axis":null},"y":{"field":"y","type":"quantitative","axis":null},"text":{"field":"label"}}},
{"data":{"name":"tags"},"mark":{"type":"text","align":"center","baseline":"middle","font":"Liberation Serif","fontSize":16,"color":"#222222"},
 "encoding":{"x":{"field":"x","type":"quantitative","axis":null},"y":{"field":"y","type":"quantitative","axis":null},"text":{"field":"label"}}},
{"data":{"name":"notes"},"mark":{"type":"text","align":"left","baseline":"middle","font":"Liberation Serif","fontSize":11.5,"color":"#111111"},
 "encoding":{"x":{"field":"x","type":"quantitative","axis":null},"y":{"field":"y","type":"quantitative","axis":null},"text":{"field":"label"}}}
]}
